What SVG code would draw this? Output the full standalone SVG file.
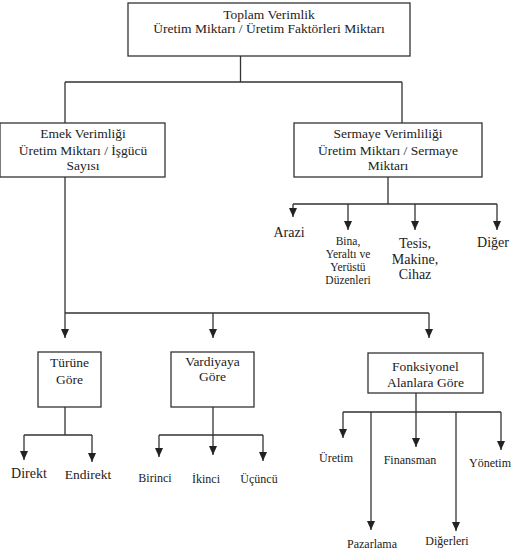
<svg xmlns="http://www.w3.org/2000/svg" width="512" height="552" viewBox="0 0 512 552">
  <defs>
    <style>
      .box { fill: #ffffff; stroke: #333333; stroke-width: 1.3; }
      .ln { fill: none; stroke: #333333; stroke-width: 1.3; }
      .ar { fill: none; stroke: #333333; stroke-width: 1.3; marker-end: url(#tip); }
      .lbl text { fill: #222222; text-anchor: middle; }
      .t13 { font-size: 13.5px; }
      .t14 { font-size: 14px; }
      .t11 { font-size: 12px; }
      .t10 { font-size: 11.5px; }
    </style>
    <marker id="tip" viewBox="0 0 9 8" refX="9" refY="4" markerWidth="9" markerHeight="8" markerUnits="userSpaceOnUse" orient="auto">
      <path d="M0,0 L9,4 L0,8 Z" fill="#222222"/>
    </marker>
  </defs>

  <rect width="512" height="552" fill="#ffffff"/>

  <g id="connectors">
    <!-- top level split -->
    <path class="ln" d="M240.5,56 V82 M65,82 H402 M65,82 V123 M402,82 V123"/>
    <!-- capital productivity branches -->
    <path class="ln" d="M388,177 V204 M293,204 H497"/>
    <path class="ar" d="M293,204 V217"/>
    <path class="ar" d="M348,204 V230"/>
    <path class="ar" d="M415,204 V230"/>
    <path class="ar" d="M497,204 V230"/>
    <!-- labour productivity branches -->
    <path class="ln" d="M65,177 V313 M65,313 H429"/>
    <path class="ar" d="M65,313 V338"/>
    <path class="ar" d="M213,313 V338"/>
    <path class="ar" d="M429,313 V338"/>
    <!-- by type -->
    <path class="ln" d="M65,407 V435 M24,435 H92"/>
    <path class="ar" d="M24,435 V460"/>
    <path class="ar" d="M92,435 V462"/>
    <!-- by shift -->
    <path class="ln" d="M213,407 V435 M159,435 H263"/>
    <path class="ar" d="M159,435 V457"/>
    <path class="ar" d="M213,435 V455"/>
    <path class="ar" d="M263,435 V461"/>
    <!-- by functional area -->
    <path class="ln" d="M416,393 V412 M343,412 H501"/>
    <path class="ar" d="M343,412 V438"/>
    <path class="ar" d="M371,412 V530"/>
    <path class="ar" d="M416,412 V447"/>
    <path class="ar" d="M456,412 V531"/>
    <path class="ar" d="M501,412 V450"/>
  </g>

  <g class="lbl" font-family="'Liberation Serif', 'DejaVu Serif', serif">
    <g id="toplam">
      <rect class="box" x="128" y="3" width="282" height="53"/>
      <text class="t13" x="269" y="19">Toplam Verimlik</text>
      <text class="t13" x="269" y="33">Üretim Miktarı / Üretim Faktörleri Miktarı</text>
    </g>

    <g id="emek">
      <rect class="box" x="0" y="123" width="165" height="54"/>
      <text class="t13" x="83" y="138">Emek Verimliği</text>
      <text class="t13" x="83" y="155">Üretim Miktarı / İşgücü</text>
      <text class="t13" x="83" y="170">Sayısı</text>
    </g>

    <g id="sermaye">
      <rect class="box" x="294" y="123" width="188" height="54"/>
      <text class="t13" x="388" y="138">Sermaye Verimliliği</text>
      <text class="t13" x="388" y="155">Üretim Miktarı / Sermaye</text>
      <text class="t13" x="388" y="170">Miktarı</text>
    </g>

    <g id="arazi"><text class="t14" x="289" y="237">Arazi</text></g>
    <g id="bina">
      <text class="t10" x="348" y="245">Bina,</text>
      <text class="t10" x="348" y="258">Yeraltı ve</text>
      <text class="t10" x="348" y="271">Yerüstü</text>
      <text class="t10" x="348" y="284">Düzenleri</text>
    </g>
    <g id="tesis">
      <text class="t14" x="415" y="248">Tesis,</text>
      <text class="t14" x="415" y="264">Makine,</text>
      <text class="t14" x="415" y="279">Cihaz</text>
    </g>
    <g id="diger"><text class="t14" x="493" y="247">Diğer</text></g>

    <g id="turune">
      <rect class="box" x="38" y="352" width="63" height="55"/>
      <text class="t13" x="69.5" y="367">Türüne</text>
      <text class="t13" x="69.5" y="384">Göre</text>
    </g>
    <g id="vardiyaya">
      <rect class="box" x="171" y="352" width="83" height="55"/>
      <text class="t13" x="212.5" y="366">Vardiyaya</text>
      <text class="t13" x="212.5" y="381">Göre</text>
    </g>
    <g id="fonksiyonel">
      <rect class="box" x="368" y="353" width="115" height="40"/>
      <text class="t13" x="425.5" y="371">Fonksiyonel</text>
      <text class="t13" x="425.5" y="387">Alanlara Göre</text>
    </g>

    <g id="direkt"><text class="t14" x="29" y="478">Direkt</text></g>
    <g id="endirekt"><text class="t13" x="88" y="479">Endirekt</text></g>
    <g id="birinci"><text class="t11" x="155" y="482">Birinci</text></g>
    <g id="ikinci"><text class="t11" x="206" y="483">İkinci</text></g>
    <g id="ucuncu"><text class="t11" x="259" y="483">Üçüncü</text></g>

    <g id="uretim"><text class="t11" x="336" y="462">Üretim</text></g>
    <g id="finansman"><text class="t11" x="410" y="464">Finansman</text></g>
    <g id="yonetim"><text class="t11" x="490" y="467">Yönetim</text></g>
    <g id="pazarlama"><text class="t11" x="372" y="548">Pazarlama</text></g>
    <g id="digerleri"><text class="t11" x="447" y="545">Diğerleri</text></g>
  </g>
</svg>
